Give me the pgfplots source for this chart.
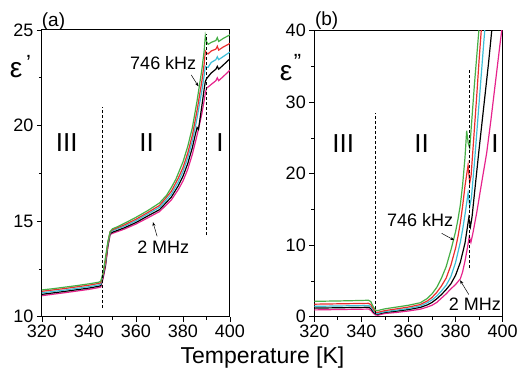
\documentclass[border=0pt]{standalone}
\usepackage{fontspec}
\setmainfont{Liberation Sans}
\usepackage{pgfplots}
\pgfplotsset{compat=1.18}
\usetikzlibrary{arrows.meta}

\definecolor{cgreen}{RGB}{70,175,70}
\definecolor{cred}{RGB}{235,45,45}
\definecolor{ccyan}{RGB}{60,190,215}
\definecolor{cblack}{RGB}{0,0,0}
\definecolor{cmag}{RGB}{230,35,140}

\pgfplotsset{myax/.style={
  scale only axis, anchor=south west,
  xmin=320, xmax=400, xtick={320,340,...,400},
  minor x tick num=1, minor y tick num=1,
  tick align=outside, xtick pos=bottom, ytick pos=left,
  major tick length=5pt, minor tick length=3pt,
  tick style={black, line width=0.8pt},
  axis line style={line width=1pt},
  tick label style={font=\fontsize{18}{20}\selectfont},
  /pgf/number format/assume math mode=true,
  clip mode=individual,
  every axis plot/.append style={line width=1.2pt, no marks},
}}

\begin{document}
\begin{tikzpicture}
% ---------------- panel (a) ----------------
\begin{axis}[myax, at={(42pt,52.3pt)}, width=188pt, height=286.7pt,
  ymin=10, ymax=25, ytick={10,15,20,25}]
\addplot[cmag] coordinates {(320,11.1)(330,11.26)(340,11.43)(344,11.52)(345,11.55)(346,12.0)(347,12.6)(348,13.6)(349,14.3)(350,14.36)(355,14.58)(360,14.85)(365,15.17)(370,15.5)(375,16.1)(378,16.65)(380,17.1)(382,17.7)(384,18.5)(386,19.5)(388,20.6)(389,21.3)(389.5,21.7)(390,21.95)(392,22.15)(394,22.35)(394.6,22.5)(395.2,22.35)(397,22.55)(400,22.9)};
\addplot[cblack] coordinates {(320,11.17)(330,11.33)(340,11.5)(344,11.59)(345,11.62)(346,12.1)(347,12.7)(348,13.7)(349,14.35)(350,14.42)(355,14.65)(360,14.93)(365,15.27)(370,15.6)(375,16.25)(378,16.85)(380,17.35)(382,18.0)(384,18.85)(385,19.4)(386,19.9)(386.6,19.8)(388,21.0)(389,21.9)(389.5,22.3)(390,22.45)(392,22.75)(394,22.95)(394.6,23.1)(395.2,22.95)(397,23.15)(400,23.5)};
\addplot[ccyan] coordinates {(320,11.25)(330,11.40)(340,11.57)(344,11.66)(345,11.70)(346,12.2)(347,12.8)(348,13.8)(349,14.4)(350,14.5)(355,14.73)(360,15.02)(365,15.37)(370,15.72)(375,16.4)(378,17.05)(380,17.6)(382,18.3)(384,19.2)(386,20.4)(388,21.8)(389,22.6)(389.5,23.1)(390,23.05)(390.7,23.05)(392,23.3)(394,23.45)(394.6,23.6)(395.2,23.45)(397,23.6)(400,23.85)};
\addplot[cred] coordinates {(320,11.33)(330,11.48)(340,11.65)(344,11.74)(345,11.77)(346,12.25)(347,12.9)(348,13.85)(349,14.45)(350,14.55)(355,14.8)(360,15.1)(365,15.45)(370,15.82)(375,16.55)(378,17.25)(380,17.8)(382,18.55)(384,19.5)(386,20.8)(388,22.3)(389,23.2)(389.5,23.9)(390,23.8)(390.7,23.75)(392,23.9)(394,24.0)(394.6,24.15)(395.2,23.95)(397,24.1)(400,24.3)};
\addplot[cgreen] coordinates {(320,11.40)(325,11.47)(330,11.55)(335,11.63)(340,11.72)(344,11.8)(345,11.85)(346,12.3)(347,13.1)(348,13.9)(349,14.45)(350,14.6)(352,14.7)(355,14.88)(360,15.2)(365,15.55)(370,15.95)(373,16.35)(375,16.75)(377,17.2)(378,17.5)(380,18.1)(382,18.9)(384,19.9)(386,21.3)(388,22.9)(389,23.9)(389.5,24.7)(390,24.4)(390.7,24.25)(392,24.35)(394,24.45)(394.6,24.6)(395.2,24.4)(397,24.55)(400,24.75)};
\draw[dashed, line width=0.7pt, dash pattern=on 3pt off 2pt] (axis cs:345.5,10.45) -- (axis cs:345.5,20.95);
\draw[dashed, line width=0.7pt, dash pattern=on 3pt off 2pt] (axis cs:389.8,14.27) -- (axis cs:389.8,24.8);
\node[font=\fontsize{26}{28}\selectfont] at (axis cs:330.5,19.1) {III};
\node[font=\fontsize{26}{28}\selectfont] at (axis cs:364.5,19.1) {II};
\node[font=\fontsize{26}{28}\selectfont] at (axis cs:395.7,19.1) {I};
\node[font=\fontsize{18}{20}\selectfont] at (axis cs:371.6,23.26) {746 kHz};
\draw[-{Stealth[length=4pt,width=3pt]}, line width=0.5pt] (axis cs:383.5,22.65) -- (axis cs:386.6,22.05);
\node[font=\fontsize{18}{20}\selectfont] at (axis cs:371.6,13.66) {2 MHz};
\draw[-{Stealth[length=4pt,width=3pt]}, line width=0.5pt] (axis cs:369.0,14.2) -- (axis cs:367.2,14.95);
\end{axis}

% ---------------- panel (b) ----------------
\begin{axis}[myax, at={(314.3pt,52.3pt)}, width=188.4pt, height=286pt,
  ymin=0, ymax=40, ytick={0,10,...,40}]
\addplot[cmag] coordinates {(320,0.95)(330,1.0)(340,1.05)(343,1.07)(344,0.9)(345,0.5)(346,0.25)(347,0.2)(348,0.3)(350,0.45)(355,0.6)(360,0.8)(365,1.05)(368,1.35)(370,1.6)(372,2.0)(374,2.6)(376,3.2)(378,3.9)(380,4.5)(382,5.3)(383,6.3)(384,7.8)(385,9.6)(385.8,11.2)(386.5,10.4)(387.3,11.6)(389,14.6)(391,18.6)(393.2,22.9)(395,27.5)(397,33)(399,38.5)(400,41)};
\addplot[cblack] coordinates {(320,1.2)(330,1.25)(340,1.3)(343,1.32)(344,1.15)(345,0.7)(346,0.4)(347,0.35)(348,0.45)(350,0.6)(355,0.78)(360,1.0)(365,1.3)(368,1.65)(370,2.0)(372,2.5)(374,3.1)(376,3.8)(378,4.6)(380,5.8)(382,7.6)(384,10.3)(385.6,13.8)(386.3,12.6)(387,14.0)(388,17.2)(390,23.5)(392,29.5)(394,35.5)(395.5,40.5)(396,42)};
\addplot[ccyan] coordinates {(320,1.45)(330,1.5)(340,1.55)(343,1.57)(344,1.4)(345,0.9)(346,0.5)(347,0.45)(348,0.55)(350,0.7)(355,0.92)(360,1.15)(365,1.5)(368,1.95)(370,2.35)(372,2.9)(374,3.6)(376,4.4)(378,5.6)(380,7.6)(382,10.4)(383,12.2)(384,14.3)(385.3,17.3)(386,15.4)(386.7,16.6)(388,21.5)(390,30)(392,38.5)(392.5,40.5)(393,43)};
\addplot[cred] coordinates {(320,1.75)(330,1.8)(340,1.85)(343,1.87)(344,1.7)(345,1.1)(346,0.65)(347,0.6)(348,0.7)(350,0.85)(355,1.1)(360,1.35)(365,1.7)(368,2.2)(370,2.7)(372,3.4)(374,4.3)(376,5.4)(378,7.2)(380,9.6)(381,11.2)(382,13.1)(383,15.5)(384,18.3)(385.3,21.2)(386,18.7)(386.6,19.8)(387.5,24)(389,31)(390,36)(391,40.5)(392,45)};
\addplot[cgreen] coordinates {(320,2.15)(330,2.2)(340,2.27)(343,2.3)(344,2.1)(345,1.4)(346,0.9)(347,0.85)(348,0.95)(350,1.1)(355,1.35)(360,1.6)(365,1.95)(368,2.55)(370,3.2)(372,4.1)(374,5.4)(376,7.0)(378,9.3)(379,10.6)(380,11.9)(381,13.6)(382,15.6)(383,18.5)(384,22.3)(384.7,26.0)(385.4,24.2)(386,23.6)(387,28)(388,32.5)(389,36.5)(390,40.5)(391,44)};
\draw[dashed, line width=0.7pt, dash pattern=on 3pt off 2pt] (axis cs:345.8,0.4) -- (axis cs:345.8,28.5);
\draw[dashed, line width=0.7pt, dash pattern=on 3pt off 2pt] (axis cs:385.8,6.8) -- (axis cs:385.8,34.6);
\node[font=\fontsize{26}{28}\selectfont] at (axis cs:332.3,24.25) {III};
\node[font=\fontsize{26}{28}\selectfont] at (axis cs:365.6,24.25) {II};
\node[font=\fontsize{26}{28}\selectfont] at (axis cs:396.7,24.25) {I};
\node[font=\fontsize{18}{20}\selectfont] at (axis cs:364.9,13.5) {746 kHz};
\draw[-{Stealth[length=4pt,width=3pt]}, line width=0.5pt] (axis cs:374.1,11.66) -- (axis cs:379.4,10.7);
\node[font=\fontsize{18}{20}\selectfont] at (axis cs:388.2,1.8) {2 MHz};
\draw[-{Stealth[length=4pt,width=3pt]}, line width=0.5pt] (axis cs:385.6,3.1) -- (axis cs:381.9,5.1);
\end{axis}

% labels
\node[font=\fontsize{28}{30}\selectfont] at (16pt,298.5pt) {ε};
\node[font=\fontsize{22}{24}\selectfont] at (28.5pt,306pt) {'};
\node[font=\fontsize{28}{30}\selectfont] at (286pt,295.5pt) {ε};
\node[font=\fontsize{22}{24}\selectfont] at (297.5pt,307pt) {"};
\node[font=\fontsize{19}{21}\selectfont] at (53.5pt,347.5pt) {(a)};
\node[font=\fontsize{19}{21}\selectfont] at (326.7pt,348pt) {(b)};
\node[font=\fontsize{23}{25}\selectfont] at (262.5pt,11.5pt) {Temperature [K]};

\pgfresetboundingbox
\path[use as bounding box] (0,0) rectangle (517pt,369pt);
\end{tikzpicture}
\end{document}
